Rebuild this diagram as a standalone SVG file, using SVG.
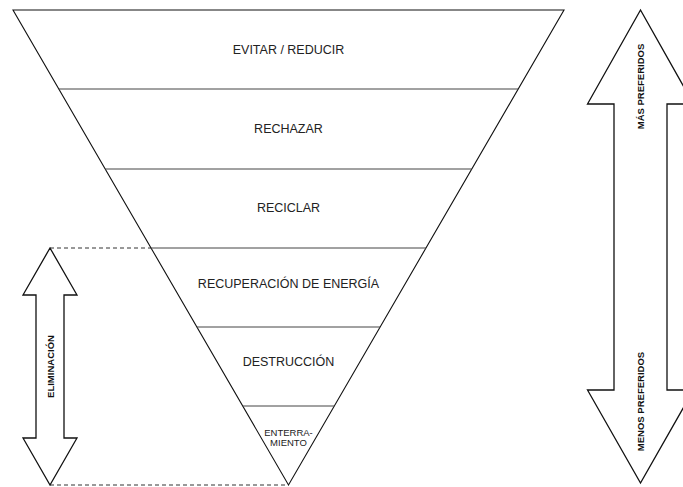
<svg xmlns="http://www.w3.org/2000/svg" width="683" height="487" viewBox="0 0 683 487">
<style>
.edge{fill:none;stroke:#111;stroke-width:1.1}
.div{fill:none;stroke:#444;stroke-width:1}
.arrow{fill:#fff;stroke:#111;stroke-width:1.3;stroke-linejoin:miter}
.dash{fill:none;stroke:#333;stroke-width:1;stroke-dasharray:4 3}
.lbl{font-family:"Liberation Sans",Arial,sans-serif;font-size:12.5px;fill:#222;text-anchor:middle}
.sm{font-family:"Liberation Sans",Arial,sans-serif;font-size:9.5px;fill:#222;text-anchor:middle}
.vb{font-family:"Liberation Sans",Arial,sans-serif;font-size:9.5px;font-weight:bold;fill:#111;text-anchor:middle}
</style>
<rect width="683" height="487" fill="#fff"/>
<g id="connectors">
<line class="dash" x1="50" y1="248" x2="151" y2="248"/>
<line class="dash" x1="50" y1="485" x2="288.5" y2="485"/>
</g>
<g id="pyramid">
<polygon class="edge" points="13,10 564,10 288.5,485"/>
</g>
<g id="level-evitar">
<text class="lbl" x="288.5" y="54">EVITAR / REDUCIR</text>
</g>
<g id="level-rechazar">
<line class="div" x1="58.8" y1="89" x2="518.2" y2="89"/>
<text class="lbl" x="288.5" y="133">RECHAZAR</text>
</g>
<g id="level-reciclar">
<line class="div" x1="105.2" y1="169" x2="471.8" y2="169"/>
<text class="lbl" x="288.5" y="212">RECICLAR</text>
</g>
<g id="level-recuperacion">
<line class="div" x1="151" y1="248" x2="426" y2="248"/>
<text class="lbl" x="288.5" y="288">RECUPERACIÓN DE ENERGÍA</text>
</g>
<g id="level-destruccion">
<line class="div" x1="196.9" y1="327" x2="380.1" y2="327"/>
<text class="lbl" x="288.5" y="366">DESTRUCCIÓN</text>
</g>
<g id="level-enterramiento">
<line class="div" x1="242.7" y1="406" x2="334.3" y2="406"/>
<text class="sm" x="288.5" y="436">ENTERRA-</text>
<text class="sm" x="288.5" y="446">MIENTO</text>
</g>
<g id="arrow-eliminacion">
<polygon class="arrow" points="50,248 77,295 64,295 64,438 77,438 50,485 23,438 36,438 36,295 23,295"/>
<text class="vb" transform="translate(53.5,366.5) rotate(-90)">ELIMINACIÓN</text>
</g>
<g id="arrow-preferencia">
<polygon class="arrow" points="640.5,10 693.5,104 667,104 667,390 693.5,390 640.5,483 587.5,390 614,390 614,104 587.5,104"/>
<text class="vb" transform="translate(644,86.5) rotate(-90)">MÁS PREFERIDOS</text>
<text class="vb" transform="translate(644,401.5) rotate(-90)">MENOS PREFERIDOS</text>
</g>
</svg>
